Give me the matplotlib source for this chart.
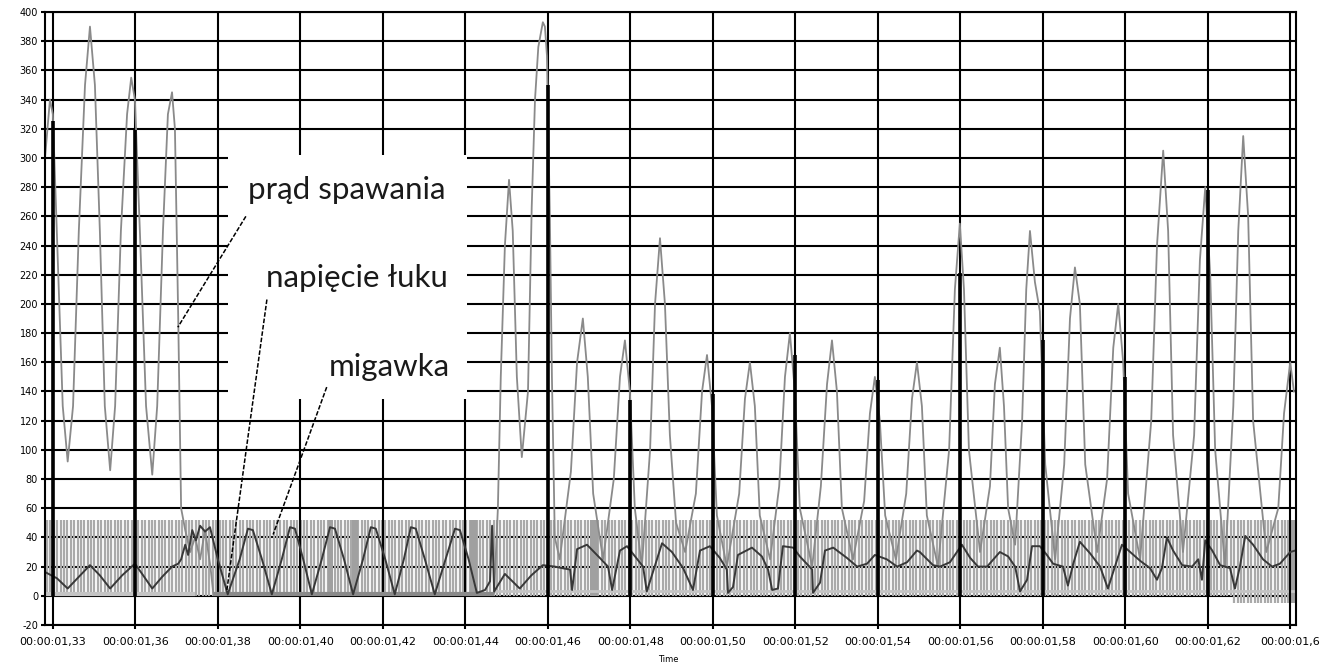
import matplotlib
matplotlib.use("Agg")
import matplotlib.pyplot as plt
from matplotlib.patches import Rectangle
import numpy as np

# ---------------- data (time in ms) ----------------
x_ticks_ms = [1340, 1360, 1380, 1400, 1420, 1440, 1460, 1480, 1500, 1520,
              1540, 1560, 1580, 1600, 1620, 1640]
x_tick_labels = ["00:00:01,33", "00:00:01,36", "00:00:01,38", "00:00:01,40",
                 "00:00:01,42", "00:00:01,44", "00:00:01,46", "00:00:01,48",
                 "00:00:01,50", "00:00:01,52", "00:00:01,54", "00:00:01,56",
                 "00:00:01,58", "00:00:01,60", "00:00:01,62", "00:00:01,6"]
y_ticks = list(range(-20, 401, 20))

# welding current (prąd spawania)
current_t = [1338.1, 1339.3, 1340.0, 1341.2, 1342.4, 1343.6, 1344.9, 1346.3, 1347.8, 1349.0,
             1350.2, 1351.4, 1352.6, 1353.9, 1355.1, 1356.5, 1358.0, 1359.0, 1359.9, 1361.1,
             1362.6, 1364.1, 1365.3, 1366.7, 1367.9, 1368.9, 1369.6, 1370.4, 1371.1, 1372.1,
             1373.3, 1374.5, 1375.7, 1376.9, 1378.2, 1378.9, 1447.0,
             1447.9, 1448.6, 1449.6, 1450.6, 1451.5, 1452.5, 1453.7, 1455.2, 1456.1, 1456.9,
             1457.7, 1458.8, 1459.3, 1459.8, 1460.5, 1461.0, 1461.7, 1462.9,
             1465.6, 1467.1, 1468.5, 1469.7, 1471.0, 1473.4,
             1476.0, 1477.5, 1478.7, 1479.9, 1481.1, 1482.8,
             1484.8, 1486.0, 1487.2, 1488.4, 1489.6, 1491.1, 1493.3,
             1495.9, 1497.4, 1498.6, 1499.8, 1501.0, 1503.4,
             1506.4, 1507.8, 1509.0, 1510.2, 1511.4, 1513.9,
             1516.1, 1517.5, 1518.7, 1519.9, 1521.1, 1524.1,
             1526.2, 1527.7, 1528.9, 1530.1, 1531.3, 1534.0,
             1536.7, 1538.1, 1539.3, 1540.5, 1541.8, 1544.4,
             1546.9, 1548.3, 1549.5, 1550.7, 1551.9, 1554.6,
             1557.3, 1558.7, 1559.9, 1560.9, 1562.1, 1564.8,
             1567.2, 1568.4, 1569.6, 1570.6, 1571.6, 1573.3,
             1575.0, 1576.0, 1576.9, 1578.1, 1579.3, 1580.6, 1583.0,
             1585.2, 1586.6, 1587.8, 1589.0, 1590.3, 1593.2,
             1595.6, 1597.1, 1598.3, 1599.5, 1600.7, 1603.6,
             1606.3, 1607.7, 1609.2, 1610.4, 1611.6, 1614.0,
             1616.7, 1618.1, 1619.4, 1620.6, 1621.8, 1624.2,
             1626.2, 1627.4, 1628.6, 1629.8, 1631.0, 1634.2,
             1637.1, 1638.5, 1640.0, 1640.9]
current_v = [300, 340, 330, 230, 130, 92, 130, 250, 350, 390,
             350, 250, 130, 86, 130, 250, 330, 355, 340, 250,
             130, 83, 130, 250, 330, 345, 320, 190, 60, 45,
             30, 40, 25, 45, 20, 2, 2,
             60, 150, 240, 285, 250, 150, 95, 140, 266, 340,
             376, 393, 390, 370, 260, 150, 40, 25,
             85, 160, 190, 150, 70, 25,
             80, 150, 175, 140, 60, 20,
             100, 200, 245, 200, 110, 50, 30,
             70, 140, 165, 130, 55, 20,
             70, 135, 160, 130, 55, 25,
             75, 150, 180, 140, 60, 20,
             75, 145, 175, 140, 60, 25,
             65, 125, 150, 120, 55, 25,
             70, 135, 160, 130, 55, 20,
             100, 210, 255, 210, 100, 30,
             75, 145, 170, 130, 60, 35,
             120, 210, 250, 215, 195, 90, 25,
             90, 190, 225, 200, 90, 30,
             80, 170, 200, 160, 70, 25,
             120, 240, 305, 250, 110, 30,
             110, 230, 280, 220, 100, 20,
             130, 250, 315, 260, 120, 30,
             60, 125, 160, 140]

# arc voltage (napięcie łuku)
voltage_t = [1338.3, 1341.0, 1343.6, 1346.3, 1349.0, 1351.4, 1353.9, 1356.8, 1359.9, 1361.9,
             1364.1, 1366.5, 1368.9, 1370.4, 1371.1, 1372.1, 1372.8, 1373.8, 1374.7, 1375.7,
             1376.9, 1378.1, 1380.0, 1382.4, 1385.3, 1387.3, 1388.5, 1390.7, 1393.1, 1395.5,
             1397.5, 1398.7, 1400.7, 1402.8, 1405.2, 1407.2, 1408.4, 1410.6, 1412.8, 1415.2,
             1417.1, 1418.3, 1420.6, 1422.9, 1425.1, 1426.8, 1428.0, 1430.2, 1432.6, 1435.2,
             1437.5, 1438.7, 1440.8, 1442.8, 1444.8, 1446.0, 1446.5, 1447.0, 1449.6, 1453.2,
             1456.0, 1458.8, 1461.7, 1463.4, 1465.4, 1465.9, 1467.1, 1469.5, 1472.6, 1474.6,
             1475.6, 1477.5, 1479.2, 1483.1, 1484.0, 1487.7, 1490.1, 1492.8, 1495.2, 1496.9,
             1499.3, 1501.7, 1503.4, 1503.7, 1504.9, 1506.1, 1509.5, 1511.9, 1513.4, 1514.4,
             1515.8, 1517.0, 1519.5, 1521.1, 1524.1, 1524.3, 1526.0, 1527.2, 1529.2, 1532.5,
             1535.0, 1537.4, 1539.3, 1542.2, 1544.7, 1547.1, 1549.5, 1550.2, 1553.4, 1555.1,
             1557.5, 1560.4, 1562.4, 1564.3, 1566.5, 1569.6, 1571.6, 1573.3, 1574.5, 1576.2,
             1577.4, 1579.3, 1581.0, 1582.5, 1584.9, 1586.1, 1587.4, 1589.0, 1591.5, 1593.9,
             1595.8, 1597.5, 1599.2, 1601.2, 1603.6, 1606.0, 1607.7, 1608.9, 1610.1, 1611.6,
             1613.8, 1616.2, 1617.7, 1618.6, 1619.4, 1621.1, 1623.0, 1625.4, 1626.6, 1627.8,
             1629.1, 1631.0, 1633.4, 1635.6, 1637.5, 1640.0, 1641.2]
voltage_v = [16, 12, 5, 13, 21, 14, 5, 14, 22, 14,
             5, 13, 20, 22, 25, 35, 28, 45, 38, 48,
             44, 47, 25, 1, 25, 46, 45, 25, 1, 25,
             47, 46, 25, 1, 25, 47, 46, 25, 1, 25,
             47, 46, 25, 1, 25, 47, 46, 25, 1, 25,
             46, 45, 25, 2, 4, 10, 48, 3, 15, 5,
             14, 21, 20, 19, 18, 4, 32, 35, 26, 20,
             4, 31, 34, 20, 3, 36, 30, 19, 4, 31,
             34, 26, 18, 2, 6, 28, 33, 27, 18, 4,
             5, 34, 33, 27, 18, 2, 9, 31, 33, 26,
             20, 22, 28, 25, 20, 23, 31, 30, 21, 20,
             23, 35, 26, 20, 20, 30, 27, 20, 3, 11,
             34, 34, 28, 22, 20, 7, 22, 37, 29, 20,
             5, 20, 35, 30, 24, 19, 11, 19, 40, 31,
             21, 20, 25, 11, 38, 31, 21, 19, 5, 20,
             41, 35, 25, 20, 22, 30, 31]

# voltage spikes
spike_t = [1340, 1360, 1460, 1480, 1500, 1520, 1540, 1560, 1580, 1600, 1620]
spike_top = [325, 319, 350, 134, 138, 165, 148, 221, 175, 150, 278]

# shutter (migawka) pulse train
shutter_first_ms = 1338.6
shutter_last_ms = 1640.0
shutter_period_ms = 0.82
shutter_high = 52
shutter_low = 0
shutter_low_late = -5
shutter_late_from_ms = 1626.0
shutter_open_t0 = [1406.7, 1412.5, 1441.1, 1470.2, 1640.0]
shutter_open_t1 = [1407.9, 1414.0, 1442.8, 1472.2, 1641.4]

labels = ["prąd spawania", "napięcie łuku", "migawka"]

# ---------------- figure ----------------
W, H = 1324, 668
fig = plt.figure(figsize=(W / 100, H / 100), dpi=100)
fig.patch.set_facecolor("white")
ax = fig.add_axes([45 / W, 1 - 625 / H, (1296 - 45) / W, (625 - 12) / H])
ax.set_xlim(1338.1, 1641.4)
ax.set_ylim(-20, 400)

# horizontal grid (below shutter bars)
for yv in y_ticks:
    ax.axhline(yv, color="black", lw=1.5, zorder=1)

# shutter bars
pulse_t = np.arange(shutter_first_ms, shutter_last_ms, shutter_period_ms)
lows = np.where(pulse_t >= shutter_late_from_ms, shutter_low_late, shutter_low)
ax.vlines(pulse_t, lows, shutter_high, color="#aaaaaa", lw=1.6, zorder=2)
for a, b in zip(shutter_open_t0, shutter_open_t1):
    lo = shutter_low_late if a >= shutter_late_from_ms else shutter_low
    ax.add_patch(Rectangle((a, lo), b - a, shutter_high - lo,
                           facecolor="#a0a0a0", edgecolor="none", zorder=2))
ax.plot([1338.1, 1374.5], [1.5, 1.5], color="#c4c4c4", lw=3, zorder=2, solid_capstyle="butt")
ax.plot([1447.0, 1641.4], [3.5, 3.5], color="#c4c4c4", lw=2, zorder=2, solid_capstyle="butt")

# vertical grid
for xv in x_ticks_ms:
    ax.axvline(xv, color="black", lw=1.5, zorder=3)

# white box behind labels
ax.add_patch(Rectangle((1382.4, 135), 1440.4 - 1382.4, 302 - 135,
                       facecolor="white", edgecolor="none", zorder=3.5))

# current
ax.plot(current_t, current_v, color="#8a8a8a", lw=1.3, zorder=4)
ax.plot([1378.9, 1447.0], [1.5, 1.5], color="#8a8a8a", lw=3, zorder=4, solid_capstyle="butt")
# voltage
ax.plot(voltage_t, voltage_v, color="#383838", lw=1.4, zorder=5)
ax.vlines(spike_t, 0, spike_top, color="black", lw=2.6, zorder=5)

# annotations
dash = (0, (3.0, 1.2))
ax.plot([1386.8, 1370.3], [260, 184], color="black", lw=1.1, ls=dash, zorder=6)
ax.plot([1391.9, 1382.2], [203, 4], color="black", lw=1.1, ls=dash, zorder=6)
ax.plot([1406.4, 1393.4], [143, 42], color="black", lw=1.1, ls=dash, zorder=6)

tfont = dict(family=["Lato", "DejaVu Sans"], fontsize=22.5, color="#1a1a1a", zorder=7,
             ha="left", va="center")
ax.text(1387.3, 278, labels[0], **tfont)
ax.text(1391.7, 218, labels[1], **tfont)
ax.text(1406.9, 157, labels[2], **tfont)

# ticks
ax.set_xticks(x_ticks_ms)
ax.set_xticklabels(x_tick_labels, fontsize=8)
ax.set_yticks(y_ticks)
ax.set_yticklabels([str(v) for v in y_ticks], fontsize=7)
ax.tick_params(axis="y", length=3, width=1.5, pad=2, color="black")
ax.tick_params(axis="x", length=3, width=1.5, pad=6, color="black")
for s in ax.spines.values():
    s.set_color("black")
    s.set_linewidth(1.5)
    s.set_zorder(8)

fig.text(668 / W, 1 - 660 / H, "Time", fontsize=6, ha="center", va="center")

fig.savefig("out.png", dpi=100, facecolor="white")
